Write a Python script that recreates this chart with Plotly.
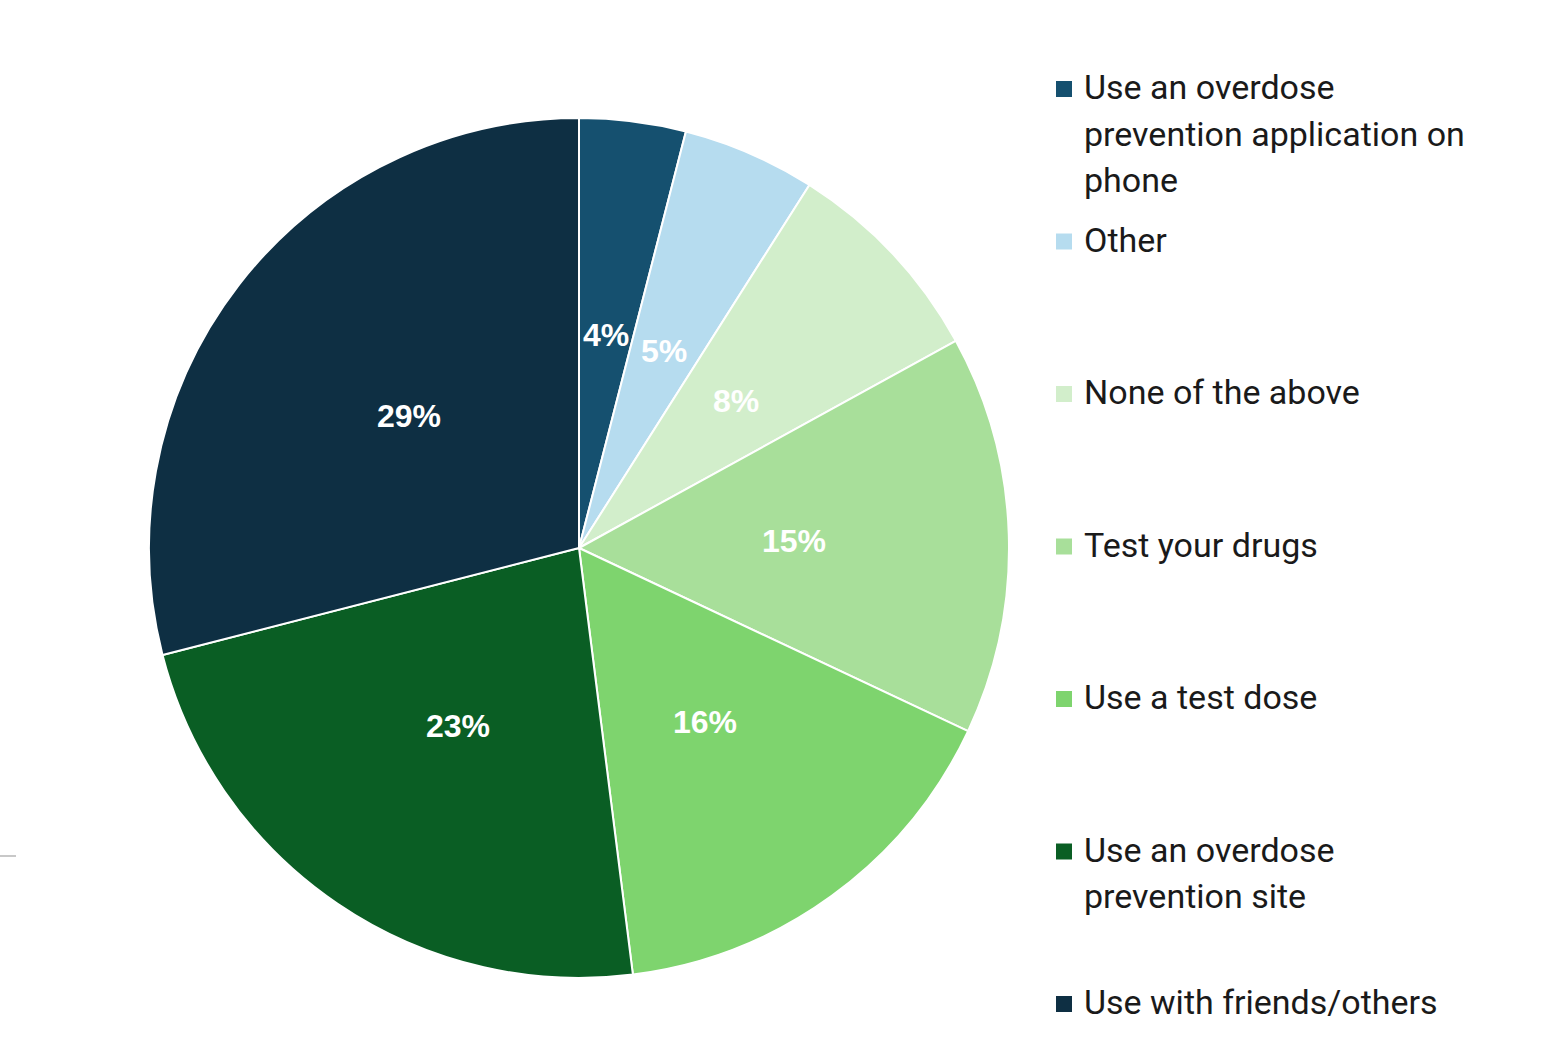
import math
import plotly.graph_objects as go

# Harm-reduction practices, share of responses (clockwise from 12 o'clock)
categories = [
    "Use an overdose prevention application on phone",
    "Other",
    "None of the above",
    "Test your drugs",
    "Use a test dose",
    "Use an overdose prevention site",
    "Use with friends/others",
]
legend_lines = [
    ["Use an overdose", "prevention application on", "phone"],
    ["Other"],
    ["None of the above"],
    ["Test your drugs"],
    ["Use a test dose"],
    ["Use an overdose", "prevention site"],
    ["Use with friends/others"],
]
values = [4, 5, 8, 15, 16, 23, 29]
colors = ["#15506f", "#b6dcef", "#d2eecb", "#a8df9a", "#7ed46e", "#0a5e24", "#0e2f43"]

W, H = 1548, 1056
CX, CY, R = 579, 548, 430  # pie centre / radius in pixels

fig = go.Figure()
fig.add_trace(go.Pie(
    labels=categories,
    values=values,
    sort=False,
    direction="clockwise",
    rotation=0,
    marker=dict(colors=colors, line=dict(color="white", width=2)),
    textinfo="none",
    hoverinfo="label+percent",
    showlegend=False,
    domain=dict(x=[(CX - R) / W, (CX + R) / W],
                y=[(H - CY - R) / H, (H - CY + R) / H]),
))

# percentage labels placed at half radius along each slice's mid-angle
total = sum(values)
cum = 0
annotations = []
for v in values:
    mid = (cum + v / 2) / total
    cum += v
    ang = 2 * math.pi * mid
    px = CX + 0.5 * R * math.sin(ang)
    py = CY - 0.5 * R * math.cos(ang)
    annotations.append(dict(
        x=px / W, y=1 - py / H, xref="paper", yref="paper",
        text=f"<b>{v}%</b>", showarrow=False,
        font=dict(family="Liberation Sans, Arial", size=32, color="white"),
        xanchor="center", yanchor="middle",
    ))

# custom legend: coloured square + wrapped label, evenly spaced
shapes = []
LEG_X0, LEG_Y0, LEG_STEP, LINE_H = 1056, 89, 152.5, 46.5
for i, (lines, col) in enumerate(zip(legend_lines, colors)):
    yc = LEG_Y0 + i * LEG_STEP
    shapes.append(dict(
        type="rect", xref="paper", yref="paper",
        x0=LEG_X0 / W, x1=(LEG_X0 + 16) / W,
        y0=1 - (yc + 8) / H, y1=1 - (yc - 8) / H,
        fillcolor=col, line=dict(width=0),
    ))
    for j, line in enumerate(lines):
        annotations.append(dict(
            x=(LEG_X0 + 26) / W, y=1 - (yc - 2 + j * LINE_H) / H,
            xref="paper", yref="paper",
            text=line, showarrow=False, align="left",
            xanchor="left", yanchor="middle",
            font=dict(family="Roboto", size=34, color="#1a1a1a"),
        ))

# faint rule at the left edge
shapes.append(dict(
    type="line", xref="paper", yref="paper",
    x0=0, x1=16 / W, y0=1 - 856 / H, y1=1 - 856 / H,
    line=dict(color="#c8c8c8", width=2),
))

fig.update_layout(
    width=W, height=H,
    margin=dict(l=0, r=0, t=0, b=0),
    paper_bgcolor="white",
    plot_bgcolor="white",
    annotations=annotations,
    shapes=shapes,
)

fig.write_html("out.html")
